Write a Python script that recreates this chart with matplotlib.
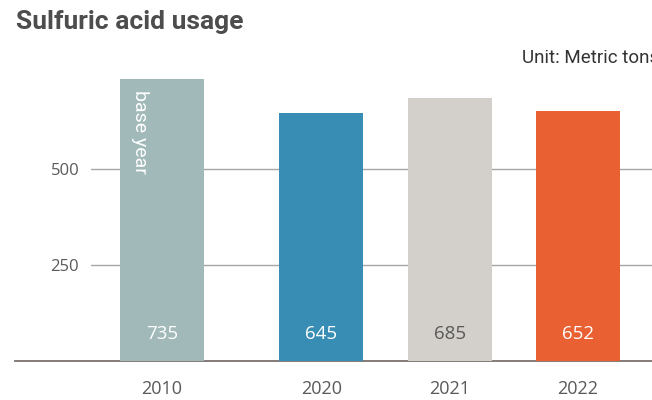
import matplotlib
matplotlib.use("Agg")
import matplotlib.pyplot as plt

# ---- data ----
years = ["2010", "2020", "2021", "2022"]
usage = [735, 645, 685, 652]
bar_colors = ["#a2b9b9", "#378db3", "#d3cfca", "#e96133"]
label_colors = ["white", "white", "#595959", "white"]
positions = [0, 1.24, 2.24, 3.24]

yticks = [250, 500]

W, H = 652, 400
fig = plt.figure(figsize=(W / 100, H / 100), dpi=100)

# axes placed in pixel terms
left, right, bottom, top = 91, 652, 361, 61
ax = fig.add_axes([left / W, 1 - bottom / H, (right - left) / W, (bottom - top) / H])

ax.bar(positions, usage, width=0.654, color=bar_colors, zorder=3)

ax.set_xlim(-0.553, 3.816)
ax.set_ylim(0, 781)

for s in ax.spines.values():
    s.set_visible(False)

# gridlines and baseline
for t in yticks:
    ax.axhline(t, color="#a6a6a6", lw=1, zorder=1)
ax.axhline(0, xmin=-(left - 15) / (right - left), xmax=1, color="#7b706c",
           lw=1.3, clip_on=False, zorder=2)

ax.set_yticks(yticks)
ax.set_yticklabels([str(t) for t in yticks], fontsize=12, color="#595959",
                   family="Open Sans")
ax.tick_params(axis="y", length=0, pad=8.5)

ax.set_xticks(positions)
ax.set_xticklabels(years, fontsize=13, color="#595959", family="Open Sans")
ax.tick_params(axis="x", length=0, pad=14)

# value labels inside the bars
for x, v, c in zip(positions, usage, label_colors):
    ax.annotate(str(v), xy=(x, 0), xytext=(0, 19.5), textcoords="offset points",
                ha="center", va="center", fontsize=13.5, color=c,
                family="Open Sans", zorder=4)

# "base year" note on the 2010 bar
ax.annotate("base year", xy=(positions[0], usage[0]), xytext=(-16, -8),
            textcoords="offset points", rotation=270, ha="center", va="top",
            fontsize=14, color="white", family="Roboto", zorder=4)

fig.text(16 / W, 1 - 22 / H, "Sulfuric acid usage", fontsize=19,
         fontweight="bold", color="#4d4d4d", family="Roboto", va="center")
fig.text(522 / W, 1 - 58 / H, "Unit: Metric tons", fontsize=13.5,
         color="#333333", family="Roboto", va="center")

fig.savefig("out.png", dpi=100)
